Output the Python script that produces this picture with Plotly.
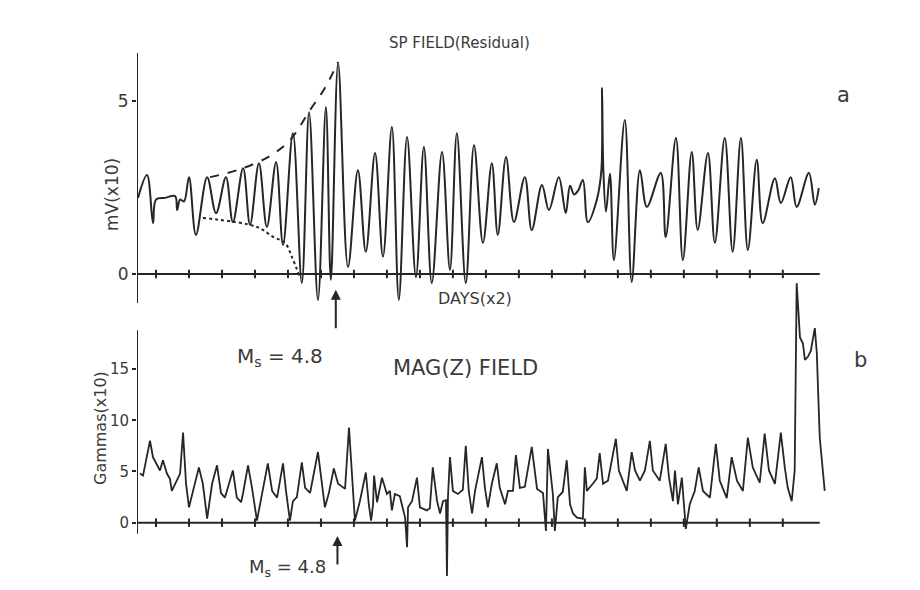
import plotly.graph_objects as go

# ---------------- data (x in tick units, each tick = 2 days) ----------------
sp_x = [0.455, 0.727, 0.909, 1.0, 1.27, 1.58, 1.64, 1.73, 1.85, 2.0, 2.21, 2.55, 2.82, 3.12,
        3.33, 3.64, 3.85, 4.12, 4.36, 4.64, 4.85, 5.15, 5.42, 5.64, 5.91, 6.15, 6.30, 6.52,
        6.82, 7.12, 7.36, 7.64, 7.88, 8.15, 8.36, 8.61, 8.88, 9.12, 9.36, 9.67, 9.91, 10.12,
        10.39, 10.64, 10.91, 11.18, 11.36, 11.61, 11.85, 12.18, 12.39, 12.70, 12.91, 13.21,
        13.42, 13.55, 13.67, 13.79, 13.94, 14.09, 14.36, 14.50, 14.52, 14.56, 14.64, 14.76,
        14.88, 15.21, 15.42, 15.67, 15.88, 16.30, 16.45, 16.76, 16.97, 17.24, 17.42, 17.73,
        17.94, 18.24, 18.48, 18.73, 18.94, 19.21, 19.39, 19.76, 19.94, 20.24, 20.42, 20.79,
        20.97, 21.09]
sp_y = [2.2, 2.86, 1.47, 2.15, 2.2, 2.25, 1.85, 2.15, 2.1, 2.8, 1.13, 2.8, 1.76, 2.8,
        1.5, 3.06, 1.42, 3.2, 1.36, 3.24, 0.84, 4.07, -0.26, 4.68, -0.75, 4.83, -0.17, 6.1,
        0.2, 3.0, 0.64, 3.5, 0.5, 4.25, -0.75, 3.96, -0.09, 3.67, -0.26, 3.53, 0.12, 4.07,
        -0.26, 3.73, 0.9, 3.2, 1.13, 3.38, 1.5, 2.8, 1.27, 2.57, 1.85, 2.8,
        1.76, 2.55, 2.3, 2.4, 2.72, 1.5, 2.14, 3.0, 5.38, 3.0, 1.8, 2.9,
        0.4, 4.45, -0.23, 3.0, 1.94, 2.92, 1.07, 3.93, 0.4, 3.53, 1.27, 3.5,
        0.9, 3.93, 0.64, 3.93, 0.69, 3.3, 1.47, 2.77, 2.05, 2.8, 1.94, 2.92,
        2.0, 2.48]

env_up_x = [2.64, 3.55, 4.45, 5.06, 5.67, 6.12, 6.52]
env_up_y = [2.80, 3.03, 3.41, 3.87, 4.74, 5.38, 6.13]
env_lo_x = [2.42, 4.06, 4.55, 4.91, 5.12, 5.36]
env_lo_y = [1.62, 1.36, 1.07, 0.90, 0.49, -0.09]

mag_x = [0.515, 0.606, 0.818, 0.909, 1.12, 1.21, 1.33, 1.42, 1.48, 1.73, 1.82, 1.91, 2.0,
         2.12, 2.30, 2.42, 2.55, 2.70, 2.85, 2.97, 3.09, 3.33, 3.45, 3.58, 3.64, 3.79, 3.91,
         4.06, 4.21, 4.39, 4.52, 4.67, 4.85, 4.94, 5.06, 5.15, 5.27, 5.42, 5.52, 5.67, 5.91,
         6.03, 6.12, 6.24, 6.39, 6.52, 6.73, 6.85, 6.94, 7.03, 7.18, 7.36, 7.45, 7.52, 7.58,
         7.61, 7.70, 7.85, 8.0, 8.09, 8.15, 8.24, 8.39, 8.55, 8.61, 8.64, 8.76, 8.91, 9.0,
         9.21, 9.30, 9.39, 9.52, 9.61, 9.70, 9.79, 9.82, 9.85, 9.91, 10.0, 10.15, 10.30,
         10.39, 10.48, 10.58, 10.67, 10.88, 10.97, 11.06, 11.18, 11.33, 11.42, 11.58, 11.67,
         11.82, 11.91, 12.03, 12.18, 12.39, 12.55, 12.73, 12.82, 12.88, 13.03, 13.09, 13.18,
         13.33, 13.45, 13.55, 13.64, 13.76, 13.94, 14.0, 14.06, 14.24, 14.36, 14.45, 14.55,
         14.70, 14.94, 15.03, 15.27, 15.42, 15.52, 15.67, 15.82, 15.97, 16.06, 16.27, 16.45,
         16.55, 16.67, 16.73, 16.82, 16.94, 17.06, 17.18, 17.33, 17.45, 17.58, 17.79, 17.97,
         18.09, 18.30, 18.45, 18.61, 18.79, 18.94, 19.09, 19.30, 19.45, 19.58, 19.76, 19.94,
         20.06, 20.15, 20.27, 20.36, 20.42, 20.52, 20.61, 20.67, 20.76, 20.85, 20.97, 21.03,
         21.12, 21.27]
mag_y = [4.8, 4.6, 8.0, 6.4, 5.1, 6.1, 4.8, 4.3, 3.1, 4.8, 8.8, 3.8, 1.5,
         3.1, 5.4, 3.8, 0.4, 3.8, 5.6, 2.9, 2.45, 5.1, 2.45, 2.0, 2.9, 5.6, 3.4,
         0.2, 2.8, 5.8, 3.1, 2.45, 5.8, 3.1, 0.2, 2.1, 2.5, 5.9, 3.4, 2.9, 6.9,
         3.8, 1.5, 2.9, 5.3, 3.8, 3.3, 9.3, 4.4, 0.2, 2.1, 4.9, 1.8, 0.2, 1.8,
         4.6, 2.0, 4.4, 2.8, 3.1, 1.2, 2.8, 2.6, 0.5, -2.4, 1.5, 2.1, 4.4, 1.5,
         1.2, 1.4, 5.4, 2.1, 0.9, 2.1, 2.2, -5.2, 2.5, 6.4, 3.1, 2.8, 3.2,
         7.5, 3.1, 0.9, 3.1, 6.4, 3.4, 1.5, 3.8, 5.8, 3.4, 1.8, 3.1,
         3.1, 6.6, 3.4, 3.5, 7.4, 3.3, 2.9, -0.8, 7.2, 2.8, -0.8, 2.5,
         3.0, 6.1, 1.8, 0.9, 0.5, 0.4, 5.4, 3.1, 3.8, 4.3, 6.8, 3.8,
         4.1, 8.2, 5.1, 3.1, 6.9, 5.1, 4.1, 5.1, 8.0, 5.1, 4.1, 7.7,
         4.4, 2.1, 5.1, 1.8, 4.4, -0.6, 1.8, 3.1, 5.4, 3.1, 2.45, 7.7,
         4.1, 2.4, 6.4, 4.1, 3.1, 8.3, 5.4, 3.9, 8.7, 5.1, 3.8, 8.8,
         5.4, 3.4, 2.1, 5.1, 23.4, 18.1, 17.5, 15.9, 16.2, 16.8, 19.0, 16.6,
         8.3, 3.1]

day_ticks = list(range(1, 21))
sp_ticks = [0, 5]
mag_ticks = [0, 5, 10, 15]
event_x = 6.45

# ---------------- layout helpers (screen pixel -> paper; page body has 8px margin) ----
OFF = 8
W, H = 904, 574
def px(x):
    return (x - OFF) / W
def py(y):
    return 1 - (y - OFF) / H

INK = "#262626"
TXT = "#3a3a3a"
FONT = "DejaVu Sans"

X0, X1 = 0.424, 21.4
XAX_END = 21.12
SP_R = [-0.84, 6.39]
MAG_R = [-5.6, 24.0]

fig = go.Figure()

# SP field
fig.add_trace(go.Scatter(x=sp_x, y=sp_y, mode="lines", xaxis="x", yaxis="y",
                         line=dict(color=INK, width=2, shape="spline", smoothing=1.0),
                         hoverinfo="skip"))
fig.add_trace(go.Scatter(x=env_up_x, y=env_up_y, mode="lines", xaxis="x", yaxis="y",
                         line=dict(color=INK, width=2, dash="dash", shape="spline"),
                         hoverinfo="skip"))
fig.add_trace(go.Scatter(x=env_lo_x, y=env_lo_y, mode="lines", xaxis="x", yaxis="y",
                         line=dict(color=INK, width=2, dash="dot", shape="spline"),
                         hoverinfo="skip"))
fig.add_trace(go.Scatter(x=day_ticks, y=[0] * len(day_ticks), mode="markers",
                         xaxis="x", yaxis="y",
                         marker=dict(symbol="line-ns", size=6, line=dict(color=INK, width=2)),
                         hoverinfo="skip"))

# MAG field
fig.add_trace(go.Scatter(x=mag_x, y=mag_y, mode="lines", xaxis="x2", yaxis="y2",
                         line=dict(color=INK, width=1.8), hoverinfo="skip"))
fig.add_trace(go.Scatter(x=day_ticks, y=[0] * len(day_ticks), mode="markers",
                         xaxis="x2", yaxis="y2",
                         marker=dict(symbol="line-ns", size=6, line=dict(color=INK, width=2)),
                         hoverinfo="skip"))

xdom = [px(137), px(829)]
common_x = dict(domain=xdom, range=[X0, X1], showgrid=False, zeroline=False,
                showline=False, showticklabels=False, ticks="", fixedrange=True)
fig.update_layout(
    width=W, height=H,
    margin=dict(l=0, r=0, t=0, b=0),
    paper_bgcolor="white", plot_bgcolor="rgba(0,0,0,0)",
    showlegend=False,
    xaxis=dict(anchor="y", **common_x),
    xaxis2=dict(anchor="y2", **common_x),
    yaxis=dict(domain=[py(303), py(53)], range=SP_R, anchor="x",
               showgrid=False, zeroline=False, showline=False,
               tickmode="array", tickvals=sp_ticks, ticks="outside", ticklen=4,
               tickwidth=2, tickcolor=INK,
               tickfont=dict(family=FONT, size=17, color=TXT)),
    yaxis2=dict(domain=[py(580), py(277)], range=MAG_R, anchor="x2",
                showgrid=False, zeroline=False, showline=False,
                tickmode="array", tickvals=mag_ticks, ticks="outside", ticklen=4,
                tickwidth=2, tickcolor=INK,
                tickfont=dict(family=FONT, size=15, color=TXT)),
)

# axis lines
shapes = [
    dict(type="line", xref="x", yref="y", x0=X0, x1=XAX_END, y0=0, y1=0,
         line=dict(color=INK, width=2)),
    dict(type="line", xref="x", yref="y", x0=X0, x1=X0, y0=SP_R[0], y1=SP_R[1],
         line=dict(color=INK, width=2)),
    dict(type="line", xref="x2", yref="y2", x0=X0, x1=XAX_END, y0=0, y1=0,
         line=dict(color=INK, width=2)),
    dict(type="line", xref="x2", yref="y2", x0=X0, x1=X0, y0=-1.08, y1=18.8,
         line=dict(color=INK, width=2)),
]
fig.update_layout(shapes=shapes)

def txt(x, y, s, size=15, angle=0):
    return dict(x=px(x), y=py(y), xref="paper", yref="paper", text=s, showarrow=False,
                textangle=angle, font=dict(family=FONT, size=size, color=TXT),
                xanchor="center", yanchor="middle")

annos = [
    txt(459, 43, "SP FIELD(Residual)", 15),
    txt(843, 95, "a", 21),
    txt(112, 195, "mV(x10)", 17, -90),
    txt(475, 298, "DAYS(x2)", 16),
    txt(280, 357, "M<sub>s</sub> = 4.8", 20),
    txt(465, 368, "MAG(Z) FIELD", 21),
    txt(860, 360, "b", 21),
    txt(100, 428, "Gammas(x10)", 16, -90),
    dict(x=px(287), y=0, xref="paper", yref="paper", text="M<sub>s</sub> = 4.8",
         showarrow=False, font=dict(family=FONT, size=18, color=TXT),
         xanchor="center", yanchor="bottom"),
    dict(x=event_x, y=-0.46, xref="x", yref="y", ax=0, ay=40, showarrow=True,
         arrowhead=2, arrowsize=1, arrowwidth=2, arrowcolor=INK, text=""),
    dict(x=event_x + 0.05, y=-1.3, xref="x2", yref="y2", ax=0, ay=30, showarrow=True,
         arrowhead=2, arrowsize=1, arrowwidth=2, arrowcolor=INK, text=""),
]
fig.update_layout(annotations=annos)

fig.write_html("out.html")
